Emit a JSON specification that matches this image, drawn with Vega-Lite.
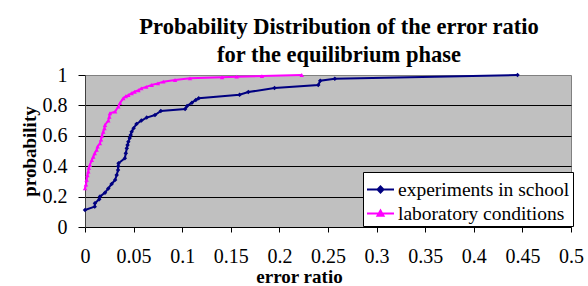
{
  "$schema": "https://vega.github.io/schema/vega-lite/v6.json",
  "width": 486,
  "height": 152,
  "autosize": {"type": "none"},
  "padding": {"left": 85, "top": 75, "right": 17, "bottom": 59},
  "background": "white",
  "config": {
    "view": {"fill": "#C0C0C0", "stroke": "#808080", "strokeWidth": 1},
    "font": "Liberation Serif"
  },
  "title": {
    "text": ["Probability Distribution of the error ratio", "for the equilibrium phase"],
    "font": "Liberation Serif",
    "fontSize": 22.5,
    "fontWeight": "bold",
    "color": "black",
    "anchor": "middle",
    "dx": 11,
    "offset": -1,
    "lineHeight": 28
  },
  "data": {
    "values": [
      {"series": "experiments in school", "ratio": 0, "prob": 0.112},
      {"series": "experiments in school", "ratio": 0.010, "prob": 0.134},
      {"series": "experiments in school", "ratio": 0.0102, "prob": 0.156},
      {"series": "experiments in school", "ratio": 0.0147, "prob": 0.182},
      {"series": "experiments in school", "ratio": 0.0154, "prob": 0.2},
      {"series": "experiments in school", "ratio": 0.0206, "prob": 0.226},
      {"series": "experiments in school", "ratio": 0.024, "prob": 0.254},
      {"series": "experiments in school", "ratio": 0.0274, "prob": 0.283},
      {"series": "experiments in school", "ratio": 0.031, "prob": 0.31},
      {"series": "experiments in school", "ratio": 0.0326, "prob": 0.342},
      {"series": "experiments in school", "ratio": 0.034, "prob": 0.375},
      {"series": "experiments in school", "ratio": 0.0342, "prob": 0.4},
      {"series": "experiments in school", "ratio": 0.0345, "prob": 0.419},
      {"series": "experiments in school", "ratio": 0.041, "prob": 0.452},
      {"series": "experiments in school", "ratio": 0.042, "prob": 0.485},
      {"series": "experiments in school", "ratio": 0.043, "prob": 0.518},
      {"series": "experiments in school", "ratio": 0.0438, "prob": 0.54},
      {"series": "experiments in school", "ratio": 0.0446, "prob": 0.561},
      {"series": "experiments in school", "ratio": 0.046, "prob": 0.585},
      {"series": "experiments in school", "ratio": 0.047, "prob": 0.605},
      {"series": "experiments in school", "ratio": 0.048, "prob": 0.627},
      {"series": "experiments in school", "ratio": 0.050, "prob": 0.65},
      {"series": "experiments in school", "ratio": 0.053, "prob": 0.678},
      {"series": "experiments in school", "ratio": 0.058, "prob": 0.7},
      {"series": "experiments in school", "ratio": 0.0635, "prob": 0.72},
      {"series": "experiments in school", "ratio": 0.072, "prob": 0.737},
      {"series": "experiments in school", "ratio": 0.078, "prob": 0.763},
      {"series": "experiments in school", "ratio": 0.103, "prob": 0.776},
      {"series": "experiments in school", "ratio": 0.105, "prob": 0.796},
      {"series": "experiments in school", "ratio": 0.11, "prob": 0.818},
      {"series": "experiments in school", "ratio": 0.114, "prob": 0.836},
      {"series": "experiments in school", "ratio": 0.117, "prob": 0.847},
      {"series": "experiments in school", "ratio": 0.159, "prob": 0.87},
      {"series": "experiments in school", "ratio": 0.168, "prob": 0.888},
      {"series": "experiments in school", "ratio": 0.195, "prob": 0.914},
      {"series": "experiments in school", "ratio": 0.240, "prob": 0.934},
      {"series": "experiments in school", "ratio": 0.242, "prob": 0.962},
      {"series": "experiments in school", "ratio": 0.257, "prob": 0.976},
      {"series": "experiments in school", "ratio": 0.445, "prob": 1.0},
      {"series": "laboratory conditions", "ratio": 0, "prob": 0.254},
      {"series": "laboratory conditions", "ratio": 0.001, "prob": 0.28},
      {"series": "laboratory conditions", "ratio": 0.0017, "prob": 0.31},
      {"series": "laboratory conditions", "ratio": 0.0025, "prob": 0.34},
      {"series": "laboratory conditions", "ratio": 0.0034, "prob": 0.364},
      {"series": "laboratory conditions", "ratio": 0.004, "prob": 0.39},
      {"series": "laboratory conditions", "ratio": 0.005, "prob": 0.408},
      {"series": "laboratory conditions", "ratio": 0.007, "prob": 0.44},
      {"series": "laboratory conditions", "ratio": 0.0085, "prob": 0.462},
      {"series": "laboratory conditions", "ratio": 0.010, "prob": 0.485},
      {"series": "laboratory conditions", "ratio": 0.012, "prob": 0.507},
      {"series": "laboratory conditions", "ratio": 0.013, "prob": 0.53},
      {"series": "laboratory conditions", "ratio": 0.0154, "prob": 0.55},
      {"series": "laboratory conditions", "ratio": 0.0165, "prob": 0.575},
      {"series": "laboratory conditions", "ratio": 0.0175, "prob": 0.6},
      {"series": "laboratory conditions", "ratio": 0.0188, "prob": 0.627},
      {"series": "laboratory conditions", "ratio": 0.020, "prob": 0.65},
      {"series": "laboratory conditions", "ratio": 0.0206, "prob": 0.671},
      {"series": "laboratory conditions", "ratio": 0.024, "prob": 0.7},
      {"series": "laboratory conditions", "ratio": 0.025, "prob": 0.725},
      {"series": "laboratory conditions", "ratio": 0.0257, "prob": 0.748},
      {"series": "laboratory conditions", "ratio": 0.031, "prob": 0.759},
      {"series": "laboratory conditions", "ratio": 0.0343, "prob": 0.792},
      {"series": "laboratory conditions", "ratio": 0.036, "prob": 0.815},
      {"series": "laboratory conditions", "ratio": 0.0394, "prob": 0.847},
      {"series": "laboratory conditions", "ratio": 0.042, "prob": 0.86},
      {"series": "laboratory conditions", "ratio": 0.0446, "prob": 0.868},
      {"series": "laboratory conditions", "ratio": 0.048, "prob": 0.88},
      {"series": "laboratory conditions", "ratio": 0.051, "prob": 0.89},
      {"series": "laboratory conditions", "ratio": 0.055, "prob": 0.9},
      {"series": "laboratory conditions", "ratio": 0.058, "prob": 0.912},
      {"series": "laboratory conditions", "ratio": 0.063, "prob": 0.922},
      {"series": "laboratory conditions", "ratio": 0.0686, "prob": 0.934},
      {"series": "laboratory conditions", "ratio": 0.075, "prob": 0.945},
      {"series": "laboratory conditions", "ratio": 0.0806, "prob": 0.956},
      {"series": "laboratory conditions", "ratio": 0.0926, "prob": 0.967},
      {"series": "laboratory conditions", "ratio": 0.108, "prob": 0.978},
      {"series": "laboratory conditions", "ratio": 0.141, "prob": 0.985},
      {"series": "laboratory conditions", "ratio": 0.156, "prob": 0.989},
      {"series": "laboratory conditions", "ratio": 0.182, "prob": 0.993},
      {"series": "laboratory conditions", "ratio": 0.223, "prob": 1.0}
    ]
  },
  "encoding": {
    "x": {
      "field": "ratio",
      "type": "quantitative",
      "scale": {"domain": [0, 0.5], "nice": false, "zero": false},
      "axis": {
        "values": [0, 0.05, 0.1, 0.15, 0.2, 0.25, 0.3, 0.35, 0.4, 0.45, 0.5],
        "format": "~g",
        "grid": false,
        "title": "error ratio",
        "titleFont": "Liberation Serif",
        "titleFontSize": 19,
        "titleFontWeight": "bold",
        "titleColor": "black",
        "titleX": 214,
        "titleY": 49,
        "titleAlign": "center",
        "titleBaseline": "middle",
        "labelFont": "Liberation Serif",
        "labelFontSize": 20,
        "labelColor": "black",
        "labelPadding": 14,
        "labelFlush": false,
        "labelOverlap": false,
        "tickSize": 5,
        "tickColor": "black",
        "domainColor": "black"
      }
    },
    "y": {
      "field": "prob",
      "type": "quantitative",
      "scale": {"domain": [0, 1], "nice": false},
      "axis": {
        "values": [0, 0.2, 0.4, 0.6, 0.8, 1],
        "format": "~g",
        "grid": true,
        "gridColor": {"condition": {"test": "datum.value == 0 || datum.value == 1", "value": "transparent"}, "value": "black"},
        "gridOpacity": 1,
        "title": "probability",
        "titleFont": "Liberation Serif",
        "titleFontSize": 19,
        "titleFontWeight": "bold",
        "titleColor": "black",
        "titleAngle": 270,
        "titleX": -56,
        "titleY": 76,
        "titleAlign": "center",
        "titleBaseline": "middle",
        "labelFont": "Liberation Serif",
        "labelFontSize": 20,
        "labelColor": "black",
        "labelPadding": 11,
        "labelFlush": false,
        "labelOverlap": false,
        "tickSize": 7,
        "tickColor": "black",
        "domainColor": "#404040"
      }
    },
    "color": {
      "field": "series",
      "type": "nominal",
      "scale": {"domain": ["experiments in school", "laboratory conditions"], "range": ["#000080", "#FF00FF"]},
      "legend": {
        "title": null,
        "orient": "none",
        "legendX": 278,
        "legendY": 97,
        "fillColor": "white",
        "strokeColor": "black",
        "padding": 3,
        "labelFont": "Liberation Serif",
        "labelFontSize": 19.5,
        "labelColor": "black",
        "labelLimit": 400,
        "labelOffset": 3,
        "symbolSize": 729,
        "symbolStrokeWidth": 2,
        "rowPadding": -6,
        "encode": {
          "symbols": {
            "update": {
              "shape": {"signal": "datum.value === 'experiments in school' ? 'M-1,0H1M0,-0.22L0.22,0L0,0.22L-0.22,0Z' : 'M-1,0H1M0,-0.22L0.22,0.16L-0.22,0.16Z'"},
              "fill": {"scale": "color", "field": "value"},
              "stroke": {"scale": "color", "field": "value"},
              "strokeWidth": {"value": 2}
            }
          }
        }
      }
    }
  },
  "layer": [
    {
      "mark": {"type": "line", "strokeWidth": 2},
      "encoding": {"order": {"field": "prob", "type": "quantitative"}}
    },
    {
      "transform": [{"filter": "datum.series === 'experiments in school'"}],
      "mark": {"type": "point", "filled": true, "size": 20, "opacity": 1, "shape": "diamond"}
    },
    {
      "transform": [{"filter": "datum.series === 'laboratory conditions'"}],
      "mark": {"type": "point", "filled": true, "size": 20, "opacity": 1, "shape": "triangle-up"}
    }
  ]
}
